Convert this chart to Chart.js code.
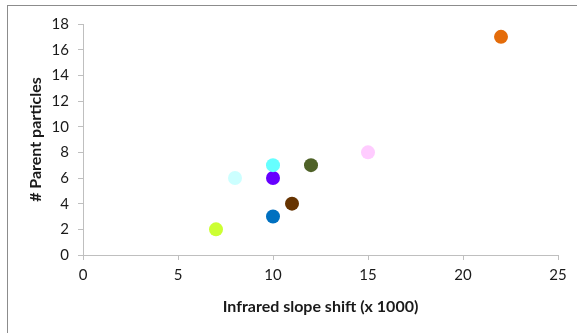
<!DOCTYPE html>
<html>
<head>
<meta charset="utf-8">
<script src="https://cdn.jsdelivr.net/npm/chart.js@4.4.0/dist/chart.umd.min.js"></script>
<style>
  html, body { margin: 0; padding: 0; background: #fff; }
  #wrap { position: relative; width: 577px; height: 333px; }
  #frame { position: absolute; left: 7px; top: 5px; right: -10px; bottom: -10px;
           border-top: 1px solid #8c8c8c; border-left: 1px solid #8c8c8c; pointer-events: none; }
  canvas { position: absolute; left: 0; top: 0; }
</style>
</head>
<body>
<div id="wrap">
  <canvas id="chart" width="577" height="333"></canvas>
  <div id="frame"></div>
</div>
<script>
// slope shift (x 1000) and number of parent particles, one point per sample
const slopeShift = [22, 15, 12, 11, 10, 10, 10, 8, 7];
const parentCount = [17, 8, 7, 4, 3, 6, 7, 6, 2];
const pointColors = ['#E46C0A', '#FFCCFF', '#4F6228', '#663300', '#0070C0', '#6600FF', '#66FFFF', '#CCFFFF', '#CCFF33'];
const xTicks = [0, 5, 10, 15, 20, 25];
const yTicks = [0, 2, 4, 6, 8, 10, 12, 14, 16, 18];

const fontFamily = 'Lato, "Open Sans", sans-serif';
const axisGray = '#BFBFBF';

new Chart(document.getElementById('chart'), {
  type: 'scatter',
  data: {
    datasets: [{
      data: slopeShift.map((x, i) => ({ x: x, y: parentCount[i] })),
      backgroundColor: pointColors,
      borderColor: pointColors,
      pointRadius: 7,
      pointHoverRadius: 7,
      borderWidth: 0
    }]
  },
  options: {
    responsive: false,
    animation: false,
    layout: { padding: { left: 22, right: 19, top: 24, bottom: 13 } },
    plugins: { legend: { display: false }, tooltip: { enabled: false } },
    scales: {
      x: {
        type: 'linear',
        min: 0, max: 25,
        afterBuildTicks: s => { s.ticks = xTicks.map(v => ({ value: v })); },
        afterFit: s => { s.height = 65; },
        grid: { drawOnChartArea: false, color: axisGray, tickLength: 5 },
        border: { color: axisGray },
        ticks: { color: '#1a1a1a', padding: 6, font: { family: fontFamily, size: 15 } },
        title: { display: true, text: 'Infrared slope shift (x 1000)', color: '#1a1a1a',
                 padding: { top: 4, bottom: 4 }, font: { family: fontFamily, size: 16, weight: 'bold' } }
      },
      y: {
        type: 'linear',
        min: 0, max: 18,
        afterBuildTicks: s => { s.ticks = yTicks.map(v => ({ value: v })); },
        afterFit: s => { s.width = 61; },
        grid: { drawOnChartArea: false, color: axisGray, tickLength: 5 },
        border: { color: axisGray },
        ticks: { color: '#1a1a1a', padding: 9, font: { family: fontFamily, size: 15 } },
        title: { display: true, text: '# Parent particles', color: '#1a1a1a',
                 padding: { top: 4, bottom: 4 }, font: { family: fontFamily, size: 16, weight: 'bold' } }
      }
    }
  }
});
</script>
</body>
</html>
